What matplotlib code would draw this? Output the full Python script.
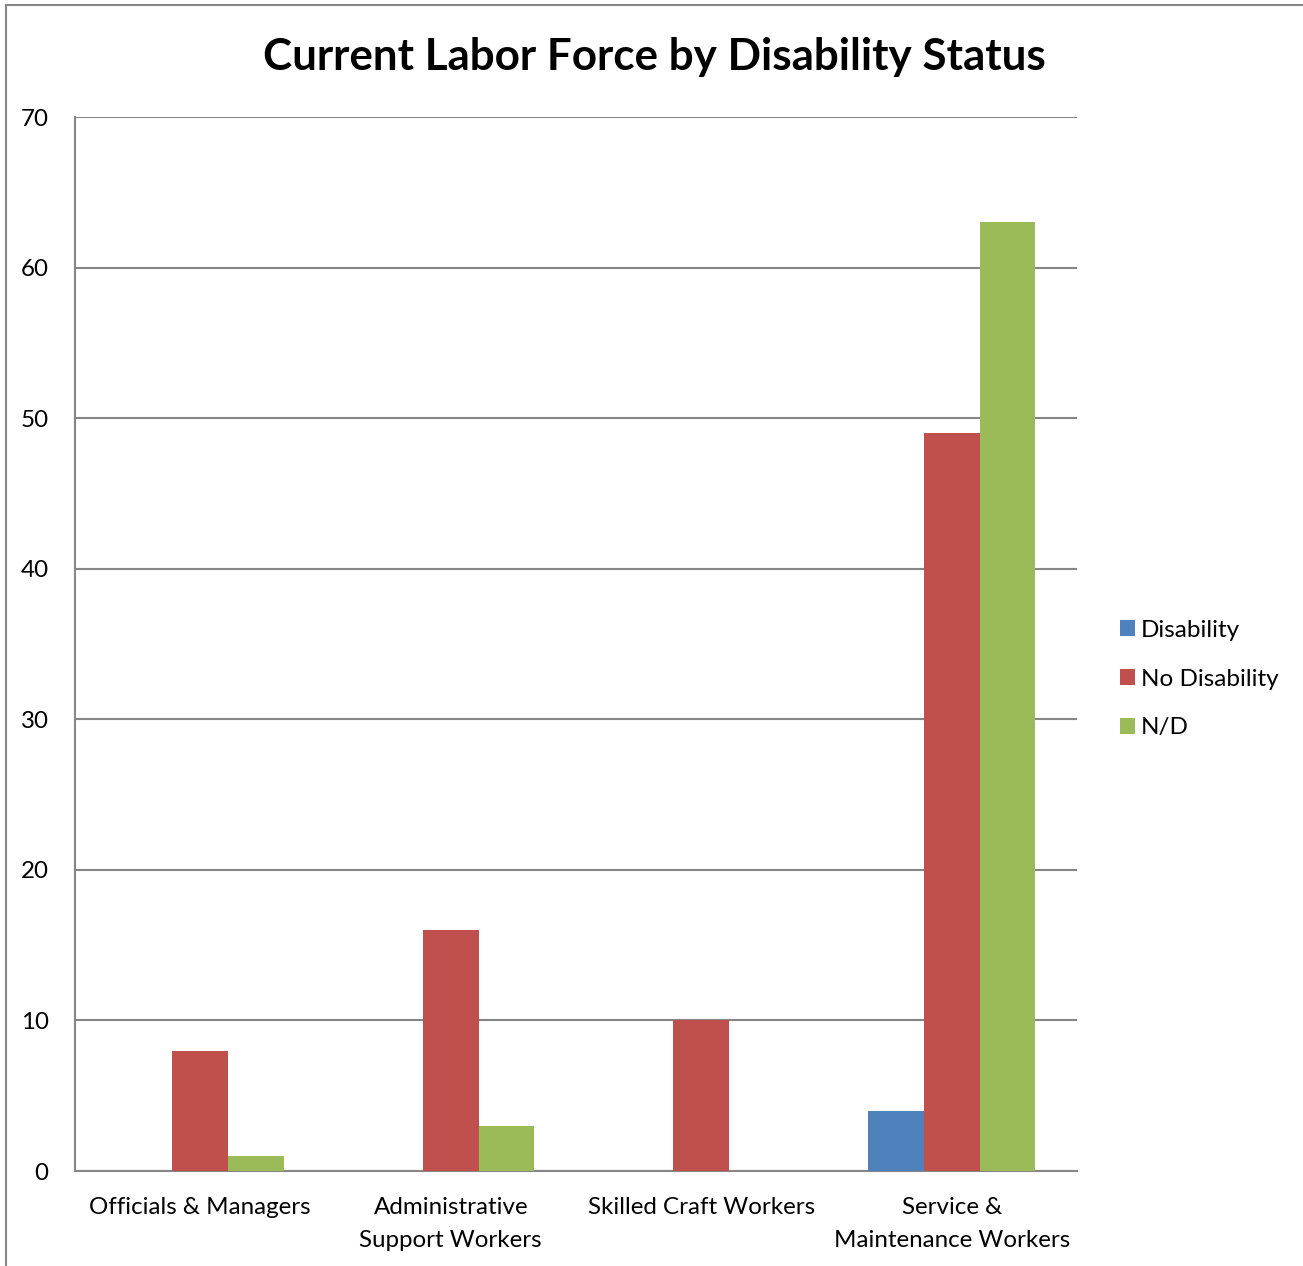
import matplotlib.pyplot as plt
import numpy as np
from matplotlib.patches import Rectangle

categories = ['Officials & Managers', 'Administrative\nSupport Workers',
              'Skilled Craft Workers', 'Service &\nMaintenance Workers']
series_names = ['Disability', 'No Disability', 'N/D']
disability = [0, 0, 0, 4]
no_disability = [8, 16, 10, 49]
not_declared = [1, 3, 0, 63]
colors = ['#4F81BD', '#C0504D', '#9BBB59']

plt.rcParams['font.family'] = ['Lato', 'DejaVu Sans']

W, H = 1303, 1266
fig = plt.figure(figsize=(W / 100, H / 100), dpi=100)

# рамка области диаграммы (правый и нижний края уходят за пределы картинки)
fig.patches.append(Rectangle((6 / W, -0.05), 1.1, 1.05 - 5 / H, transform=fig.transFigure,
                             fill=False, edgecolor='#868686', linewidth=1.5))

ax = fig.add_axes([75 / W, 1 - 1171 / H, (1077 - 75) / W, (1171 - 117) / H])

x = np.arange(len(categories))
bw = 1 / 4.5
for i, (vals, name) in enumerate(zip([disability, no_disability, not_declared], series_names)):
    ax.bar(x + (i - 1) * bw, vals, width=bw, color=colors[i], label=name, zorder=3)

ax.set_xlim(-0.5, len(categories) - 0.5)
ax.set_ylim(0, 70)
ax.set_yticks(range(0, 71, 10))
ax.yaxis.grid(True, color='#868686', linewidth=1.5, zorder=0)
ax.set_xticks(x)
ax.set_xticklabels(categories, fontsize=17.4, linespacing=1.66)
ax.tick_params(axis='y', labelsize=17.4, length=0, pad=19)
ax.tick_params(axis='x', length=0, pad=19)

for s in ['top', 'right']:
    ax.spines[s].set_visible(False)
for s in ['left', 'bottom']:
    ax.spines[s].set_color('#868686')
    ax.spines[s].set_linewidth(1.5)

fig.text(654 / W, 1 - 57 / H, 'Current Labor Force by Disability Status',
         ha='center', va='center', fontsize=31.7, fontweight='bold')

ax.legend(loc='center left', bbox_to_anchor=(1103 / W, 1 - 679 / H),
          bbox_transform=fig.transFigure, frameon=False, fontsize=17.5,
          handlelength=0.62, handleheight=0.62, handletextpad=0.25,
          labelspacing=1.15, borderpad=0.2)

fig.savefig('out.png', dpi=100)
